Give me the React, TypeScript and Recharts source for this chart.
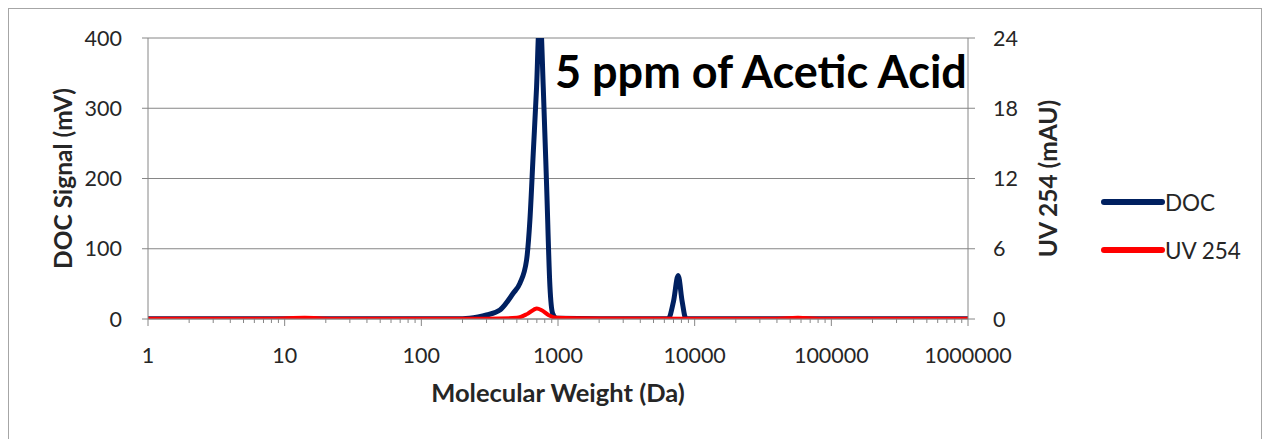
import React from "react";
import { LineChart, Line, XAxis, YAxis, CartesianGrid } from "recharts";

// molecular weight (Da) and DOC signal (mV)
const docMw = [1, 10, 100, 200, 260, 300, 376, 470, 526, 589, 623, 659, 697, 729, 745, 780, 826, 873, 912, 976, 2000, 6400, 7000, 7570, 8100, 8630, 20000, 100000, 1000000];
const docSignal = [0.3, 0.3, 0.3, 0.5, 3, 5.7, 12.8, 36.6, 50.8, 84, 141, 236, 330, 420, 420, 330, 188, 46, 8.5, 1, 0.3, 0.3, 25, 62, 25, 0.3, 0.3, 0.3, 0.3];

// molecular weight (Da) and UV 254 (mAU)
const uvMw = [1, 8, 14, 22, 100, 300, 500, 600, 700, 760, 850, 976, 2000, 10000, 40000, 57000, 80000, 1000000];
const uvSignal = [0.03, 0.03, 0.1, 0.03, 0.03, 0.03, 0.1, 0.45, 0.9, 0.75, 0.35, 0.1, 0.05, 0.03, 0.03, 0.1, 0.03, 0.03];

const majorTicks = [1, 10, 100, 1000, 10000, 100000, 1000000];
const minorSteps = [2, 3, 4, 5, 6, 7, 8, 9];
const leftTicks = [0, 100, 200, 300, 400];
const rightTicks = [0, 6, 12, 18, 24];

const docData = docMw.map((mw, i) => ({ mw, doc: docSignal[i] }));
const uvData = uvMw.map((mw, i) => ({ mw, uv: uvSignal[i] }));
const xTicks: number[] = [];
majorTicks.forEach((t) => {
  xTicks.push(t);
  if (t < 1000000) minorSteps.forEach((m) => xTicks.push(t * m));
});

const FONT = "Lato, 'Open Sans', sans-serif";
const AXIS = "#868686";
const TEXT = "#262626";

const XTick = (props: any) => {
  const { x, y, payload } = props;
  const major = majorTicks.includes(payload.value);
  return (
    <g>
      <line x1={x} x2={x} y1={y} y2={y + (major ? 7 : 4)} stroke={AXIS} strokeWidth={1} />
      {major && (
        <text x={x} y={y + 44} textAnchor="middle" fill={TEXT} fontSize={21.5} fontFamily={FONT}>
          {payload.value}
        </text>
      )}
    </g>
  );
};

const LeftTitle = (props: any) => {
  const vb = props.viewBox;
  const cx = vb.x + 62;
  const cy = vb.y + vb.height / 2;
  return (
    <text x={cx} y={cy} transform={`rotate(-90, ${cx}, ${cy})`} textAnchor="middle" dominantBaseline="central" fill={TEXT} fontSize={24.5} fontWeight="bold" fontFamily={FONT}>
      DOC Signal (mV)
    </text>
  );
};

const RightTitle = (props: any) => {
  const vb = props.viewBox;
  const cx = vb.x + 79;
  const cy = vb.y + vb.height / 2;
  return (
    <text x={cx} y={cy} transform={`rotate(-90, ${cx}, ${cy})`} textAnchor="middle" dominantBaseline="central" fill={TEXT} fontSize={24.5} fontWeight="bold" fontFamily={FONT}>
      UV 254 (mAU)
    </text>
  );
};

const BottomTitle = (props: any) => {
  const vb = props.viewBox;
  return (
    <text x={vb.x + vb.width / 2} y={vb.y + 73} textAnchor="middle" dominantBaseline="central" fill={TEXT} fontSize={25.5} fontWeight="bold" fontFamily={FONT}>
      Molecular Weight (Da)
    </text>
  );
};

export default function App() {
  return (
    <div style={{ position: "absolute", left: 0, top: 0, width: 1266, height: 439, background: "#fff", overflow: "hidden" }}>
      <div style={{ position: "absolute", left: 8, top: 8, width: 1254, height: 460, border: "1px solid #a6a6a6", boxSizing: "border-box" }} />
      <div style={{ position: "absolute", left: 0, top: 0 }}>
        <LineChart width={1266} height={439} margin={{ top: 38, right: 0, bottom: 0, left: 0 }}>
          <CartesianGrid yAxisId="left" vertical={false} stroke={AXIS} />
          <XAxis
            dataKey="mw"
            type="number"
            scale="log"
            domain={[1, 1000000]}
            ticks={xTicks}
            interval={0}
            height={120}
            tickSize={0}
            tickMargin={0}
            tick={<XTick />}
            axisLine={{ stroke: AXIS }}
            allowDuplicatedCategory={false}
            label={<BottomTitle />}
          />
          <YAxis
            yAxisId="left"
            width={148}
            domain={[0, 400]}
            ticks={leftTicks}
            allowDataOverflow
            tickSize={6}
            tickMargin={20}
            tick={{ fill: TEXT, fontSize: 21.5, fontFamily: FONT }}
            axisLine={{ stroke: AXIS }}
            tickLine={{ stroke: AXIS }}
            label={<LeftTitle />}
          />
          <YAxis
            yAxisId="right"
            orientation="right"
            width={298}
            domain={[0, 24]}
            ticks={rightTicks}
            allowDataOverflow
            tickSize={7}
            tickMargin={18}
            tick={{ fill: TEXT, fontSize: 21.5, fontFamily: FONT, textAnchor: "start" }}
            axisLine={{ stroke: AXIS }}
            tickLine={{ stroke: AXIS }}
            label={<RightTitle />}
          />
          <Line yAxisId="left" data={docData} dataKey="doc" type="monotone" stroke="#002060" strokeWidth={5} dot={false} isAnimationActive={false} />
          <Line yAxisId="right" data={uvData} dataKey="uv" type="monotone" stroke="#ff0000" strokeWidth={4} dot={false} isAnimationActive={false} />
        </LineChart>
      </div>
      <div style={{ position: "absolute", left: 555, top: 44, fontFamily: FONT, fontSize: 45, fontWeight: "bold", color: "#000", lineHeight: "54px", whiteSpace: "nowrap" }}>
        5 ppm of Acetic Acid
      </div>
      <svg style={{ position: "absolute", left: 1100, top: 180 }} width={160} height={90}>
        <line x1={4} x2={62} y1={22} y2={22} stroke="#002060" strokeWidth={6} strokeLinecap="round" />
        <text x={65} y={22} dominantBaseline="central" fill={TEXT} fontSize={22.5} fontFamily={FONT}>DOC</text>
        <line x1={4} x2={62} y1={70} y2={70} stroke="#ff0000" strokeWidth={6} strokeLinecap="round" />
        <text x={65} y={70} dominantBaseline="central" fill={TEXT} fontSize={22.5} fontFamily={FONT}>UV 254</text>
      </svg>
    </div>
  );
}
